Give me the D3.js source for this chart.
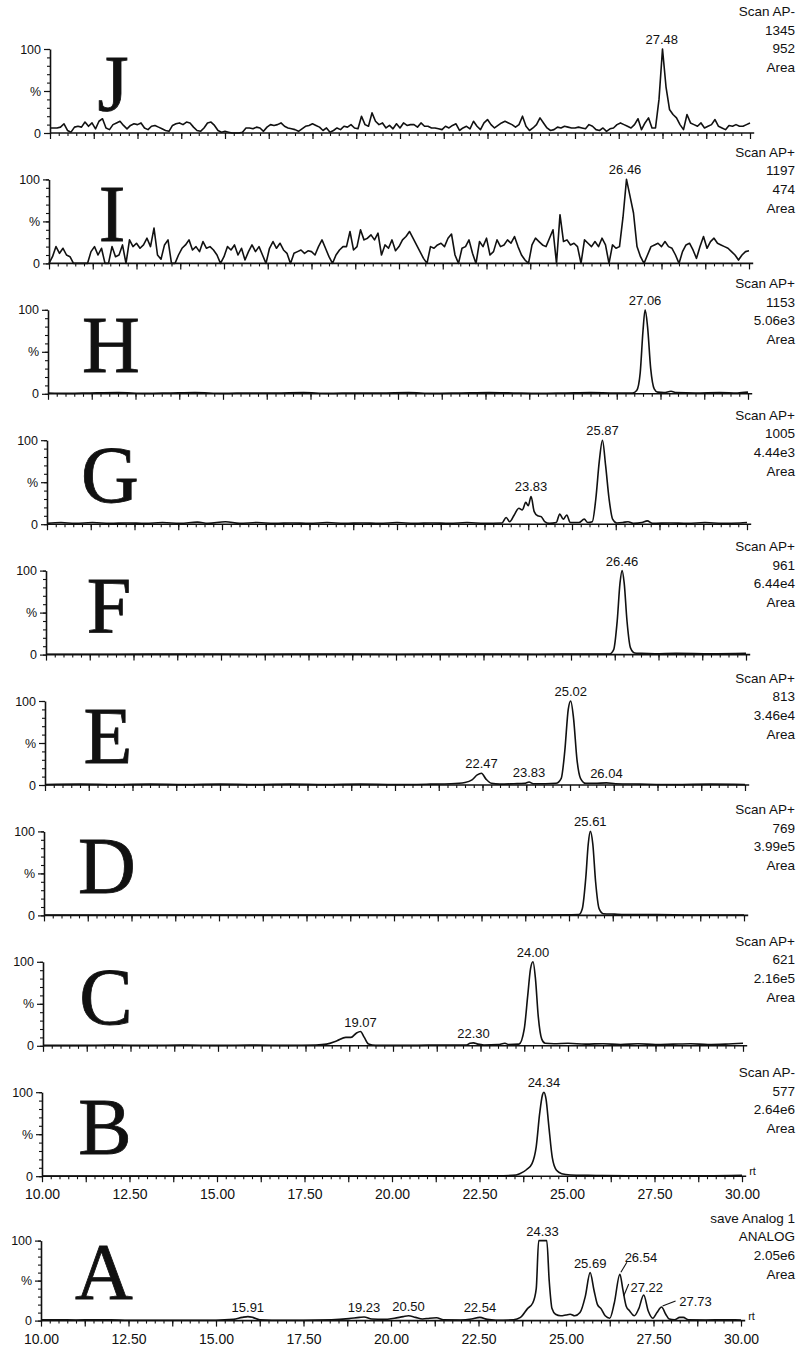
<!DOCTYPE html>
<html>
<head>
<meta charset="utf-8">
<script src="https://cdn.jsdelivr.net/npm/d3@7"></script>
<style>
  body { margin: 0; background: #fff; }
  svg text { font-family: "Liberation Sans", Arial, sans-serif; fill: #111; }
  .panel-letter { font-family: "Liberation Serif", "Times New Roman", serif; stroke: #111; stroke-width: 0.8; }
  .axis path, .axis line { stroke: #111; }
  .trace { fill: none; stroke: #111; stroke-width: 1.6; stroke-linejoin: round; }
</style>
</head>
<body>
<div id="chart"></div>
<script>
// ---- chart data ----
const panelLetters = ['J', 'I', 'H', 'G', 'F', 'E', 'D', 'C', 'B', 'A'];
const scanModes = ['Scan AP-', 'Scan AP+', 'Scan AP+', 'Scan AP+', 'Scan AP+', 'Scan AP+', 'Scan AP+', 'Scan AP+', 'Scan AP-', 'save Analog 1'];
const scanMasses = ['1345', '1197', '1153', '1005', '961', '813', '769', '621', '577', 'ANALOG'];
const scanIntensities = ['952', '474', '5.06e3', '4.44e3', '6.44e4', '3.46e4', '3.99e5', '2.16e5', '2.64e6', '2.05e6'];
const scanFooters = ['Area', 'Area', 'Area', 'Area', 'Area', 'Area', 'Area', 'Area', 'Area', 'Area'];
const timeLabels = [10, 12.5, 15, 17.5, 20, 22.5, 25, 27.5, 30];

// noisy traces J and I: one reading every 0.1 min from 10.0 to 30.0
const scanStart = 10;
const scanStep = 0.1;
const traceJ = [
  6, 6, 6, 7, 11, 3, 1, 7, 8, 7,
  13, 8, 12, 5, 14, 17, 6, 4, 10, 12,
  14, 9, 5, 9, 11, 10, 12, 6, 4, 8,
  9, 7, 5, 3, 2, 9, 11, 12, 10, 13,
  12, 7, 3, 2, 6, 12, 13, 9, 3, 1,
  2, 1, 0, 0, 0, 1, 6, 6, 5, 7,
  6, 2, 7, 10, 9, 10, 12, 8, 6, 5,
  4, 2, 5, 8, 9, 11, 9, 7, 3, 6,
  1, 3, 6, 4, 8, 7, 10, 6, 5, 20,
  10, 8, 24, 14, 10, 12, 6, 9, 5, 11,
  6, 12, 9, 10, 10, 7, 12, 8, 8, 6,
  6, 5, 4, 8, 6, 9, 11, 3, 6, 8,
  5, 14, 8, 4, 12, 16, 10, 6, 9, 12,
  14, 12, 10, 7, 10, 20, 8, 3, 6, 10,
  18, 12, 6, 3, 4, 7, 6, 8, 7, 6,
  6, 7, 6, 5, 10, 8, 4, 3, 6, 2,
  5, 6, 10, 12, 10, 8, 6, 10, 17, 4,
  12, 18, 6, 6, 40, 100, 55, 28, 22, 18,
  10, 4, 22, 12, 10, 8, 12, 6, 8, 10,
  16, 8, 6, 4, 9, 8, 10, 8, 8, 10,
  12
];
const traceI = [
  0, 8, 20, 12, 18, 10, 8, 0, 0, 0,
  0, 0, 14, 20, 10, 18, 0, 0, 20, 8,
  10, 22, 0, 28, 20, 24, 18, 22, 30, 20,
  42, 10, 5, 22, 28, 0, 0, 10, 18, 22,
  28, 16, 20, 14, 26, 18, 20, 16, 10, 0,
  8, 20, 16, 22, 10, 18, 4, 14, 22, 14,
  20, 10, 0, 18, 26, 18, 24, 16, 12, 0,
  12, 14, 16, 12, 15, 14, 10, 20, 28, 18,
  8, 0, 10, 16, 20, 20, 38, 16, 20, 40,
  28, 30, 34, 28, 36, 10, 22, 18, 28, 15,
  20, 28, 32, 38, 30, 22, 14, 6, 0, 20,
  18, 22, 24, 20, 30, 35, 10, 0, 18, 20,
  28, 12, 0, 26, 20, 30, 10, 14, 28, 20,
  22, 28, 24, 32, 20, 10, 4, 0, 22, 30,
  26, 22, 20, 30, 40, 0, 58, 26, 28, 22,
  24, 20, 0, 28, 24, 20, 26, 20, 30, 22,
  0, 22, 18, 20, 55, 100, 80, 60, 20, 8,
  0, 10, 20, 22, 24, 20, 26, 20, 18, 10,
  0, 14, 22, 24, 16, 6, 20, 32, 18, 26,
  30, 24, 22, 20, 18, 14, 10, 4, 10, 14,
  15
];

// smooth traces: [time (min), relative intensity (%)]
const traceH = [[10, 1], [10.6, 0.5], [11.2, 1], [12, 1.5], [12.8, 0.5], [13.5, 1], [14.2, 1.5], [15, 0.5], [15.8, 1], [16.5, 1], [17.3, 1.5], [18, 0.5], [18.8, 1], [19.5, 1], [20.3, 1.5], [21, 0.5], [21.8, 1], [22.6, 1.5], [23.3, 1], [24, 0.5], [24.8, 1], [25.5, 1.5], [26.2, 1], [26.7, 1], [26.82, 4], [26.92, 25], [27.0, 75], [27.06, 100], [27.13, 80], [27.22, 30], [27.32, 6], [27.42, 2], [27.6, 1.5], [27.8, 3], [27.95, 1.5], [28.5, 1], [29.2, 1.5], [29.7, 1], [30, 2]];
const traceG = [[10, 1], [10.4, 2], [10.8, 1], [11.3, 2], [11.8, 1], [12.3, 1.5], [12.8, 1], [13.3, 2], [13.8, 1], [14.3, 2.5], [14.6, 1], [15.1, 3], [15.5, 1], [16, 2], [16.5, 1], [17, 1.5], [17.5, 1], [18, 2], [18.5, 1], [19, 1.5], [19.5, 1], [20, 2], [20.5, 1], [21, 1.5], [21.5, 1], [22, 2], [22.5, 1], [23, 1.5], [23.12, 8], [23.22, 3], [23.35, 11], [23.48, 19], [23.58, 17], [23.68, 26], [23.75, 22], [23.83, 33], [23.92, 15], [24.02, 10], [24.12, 9], [24.22, 3], [24.35, 1], [24.55, 2], [24.65, 12], [24.75, 6], [24.85, 11], [24.95, 2], [25.2, 2], [25.35, 6], [25.45, 2], [25.58, 3], [25.68, 30], [25.78, 75], [25.87, 100], [25.96, 70], [26.06, 30], [26.16, 6], [26.28, 1.5], [26.45, 2], [26.6, 3], [26.75, 1], [27.0, 2], [27.15, 4], [27.3, 1], [27.8, 1.5], [28.3, 1], [28.8, 2], [29.3, 1], [29.8, 1.5], [30, 2]];
const traceF = [[10, 0.5], [12, 0.5], [14, 0.8], [16, 0.5], [18, 0.8], [20, 0.5], [22, 0.8], [24, 0.5], [25.5, 0.8], [26.1, 0.8], [26.22, 6], [26.32, 40], [26.4, 85], [26.46, 100], [26.52, 85], [26.6, 40], [26.7, 8], [26.82, 2], [27.0, 1.5], [27.4, 1], [28, 1.5], [29, 1], [30, 1.5]];
const traceE = [[10, 0.5], [11, 1], [12, 0.5], [13, 1], [14, 0.5], [15, 1], [16, 0.5], [17, 1], [18, 0.5], [19, 1], [20, 0.5], [21, 1], [21.6, 1.5], [22.0, 3], [22.2, 6], [22.35, 12], [22.47, 14], [22.6, 7], [22.75, 2], [23.0, 1], [23.4, 1.5], [23.7, 2], [23.83, 3.5], [23.95, 1.5], [24.3, 1.5], [24.6, 2], [24.75, 8], [24.85, 40], [24.95, 90], [25.02, 100], [25.1, 80], [25.2, 30], [25.3, 8], [25.45, 2], [25.7, 2], [26.04, 2.5], [26.3, 1.5], [27, 1], [28, 0.5], [29, 1], [30, 0.5]];
const traceD = [[10, 0.5], [12, 0.5], [14, 0.5], [16, 0.5], [18, 0.5], [20, 0.5], [22, 0.5], [24, 0.5], [25, 0.8], [25.28, 1], [25.38, 8], [25.48, 45], [25.55, 85], [25.61, 100], [25.68, 85], [25.76, 40], [25.86, 8], [25.98, 2], [26.3, 1.5], [26.8, 1], [27.5, 1], [28.5, 0.5], [30, 0.5]];
const traceC = [[10, 0.5], [11, 0.5], [12, 0.8], [13, 0.5], [14, 0.8], [15, 0.5], [16, 0.8], [17, 0.5], [17.8, 1], [18.1, 2], [18.4, 6], [18.65, 10], [18.8, 10], [18.95, 15], [19.07, 17], [19.18, 10], [19.3, 2], [19.5, 0.5], [20.5, 0.5], [21.5, 1], [22.1, 1], [22.2, 3], [22.3, 3.5], [22.42, 2], [22.6, 1], [23.0, 1.5], [23.2, 3], [23.3, 1.5], [23.6, 2], [23.75, 20], [23.85, 60], [23.93, 92], [24.0, 100], [24.07, 80], [24.15, 35], [24.25, 8], [24.35, 3], [24.6, 2.5], [25, 3], [25.5, 2], [26, 2.5], [26.5, 1.5], [27, 2.5], [27.5, 1.5], [28, 2], [28.5, 2.5], [29, 1.5], [29.5, 2], [30, 3]];
const traceB = [[10, 0.3], [12, 0.3], [14, 0.3], [16, 0.3], [18, 0.3], [20, 0.3], [22, 0.5], [23, 0.5], [23.45, 1], [23.65, 3], [23.85, 8], [24.0, 15], [24.12, 35], [24.22, 75], [24.3, 97], [24.34, 100], [24.4, 92], [24.48, 60], [24.58, 22], [24.7, 7], [24.85, 3], [25.1, 1.5], [25.6, 1], [26, 0.8], [27, 0.5], [28, 0.5], [29, 0.5], [30, 1]];
const traceA = [[10, 1], [10.5, 1], [11, 0.8], [11.5, 1], [12, 1], [12.5, 0.5], [13, 0.5], [14, 0.5], [15, 0.5], [15.5, 1.5], [15.75, 4], [15.91, 5], [16.05, 4], [16.25, 1], [16.6, 0.5], [17.5, 0.5], [18.3, 1], [18.8, 2.5], [19.1, 4], [19.23, 4.5], [19.45, 2], [19.8, 1.5], [20.1, 3], [20.35, 5], [20.5, 6], [20.7, 4], [20.9, 2], [21.1, 3], [21.3, 3.5], [21.5, 1], [22, 0.8], [22.3, 2], [22.54, 4], [22.75, 1.5], [23.0, 0.5], [23.5, 1], [23.7, 4], [23.9, 15], [24.05, 22], [24.15, 40], [24.22, 100], [24.45, 100], [24.52, 50], [24.6, 15], [24.7, 8], [24.85, 6], [25.0, 7], [25.12, 8], [25.25, 6], [25.4, 10], [25.55, 30], [25.69, 60], [25.8, 38], [25.9, 20], [26.0, 15], [26.12, 6], [26.25, 3], [26.38, 22], [26.54, 58], [26.62, 40], [26.72, 18], [26.82, 12], [26.95, 6], [27.08, 15], [27.22, 32], [27.35, 12], [27.48, 3], [27.6, 10], [27.73, 17], [27.85, 8], [27.95, 2], [28.1, 1], [28.25, 4], [28.35, 4], [28.5, 1], [29, 0.8], [29.5, 1], [30, 0.8]];

// retention-time labels printed over the peaks
const peaksJ = ['27.48'];
const peaksI = ['26.46'];
const peaksH = ['27.06'];
const peaksG = ['23.83', '25.87'];
const peaksF = ['26.46'];
const peaksE = ['22.47', '23.83', '25.02', '26.04'];
const peaksD = ['25.61'];
const peaksC = ['19.07', '22.30', '24.00'];
const peaksB = ['24.34'];
const peaksA = ['15.91', '19.23', '20.50', '22.54', '24.33', '25.69', '26.54', '27.22', '27.73'];

class ChromatogramPanel {

  constructor(_config, _data) {
    this.config = {
      parentElement: _config.parentElement,
      left: _config.left,
      width: _config.width || 700,
      baseline: _config.baseline,
      height: _config.height || 84,
      showTimeLabels: _config.showTimeLabels || false,
      textTop: _config.textTop || -106,
      lineGap: 18.7,
      smooth: _config.smooth
    };
    this.data = _data;
    this.initVis();
  }

  initVis() {
    let vis = this;

    vis.xScale = d3.scaleLinear()
        .domain([10, 30])
        .range([vis.config.left, vis.config.left + vis.config.width]);

    vis.yScale = d3.scaleLinear()
        .domain([0, 100])
        .range([vis.config.baseline, vis.config.baseline - vis.config.height]);

    vis.chart = vis.config.parentElement.append('g')
        .attr('class', 'panel');

    // minor / medium ticks under the time axis
    vis.xMinor = d3.axisBottom(vis.xScale)
        .tickValues(d3.range(40, 121).map(d => d / 4))
        .tickSize(3).tickSizeOuter(0).tickFormat('');
    vis.xMedium = d3.axisBottom(vis.xScale)
        .tickValues(d3.range(8, 25).map(d => d * 1.25))
        .tickSize(6).tickSizeOuter(0).tickFormat('');

    vis.yMinor = d3.axisLeft(vis.yScale)
        .tickValues(d3.range(0, 11).map(d => d * 10))
        .tickSize(3).tickSizeOuter(0).tickFormat('');
    vis.yMajor = d3.axisLeft(vis.yScale)
        .tickValues([0, 50, 100])
        .tickSize(6).tickSizeOuter(0)
        .tickFormat(d => d === 50 ? '%' : d);

    vis.line = d3.line()
        .x(d => vis.xScale(d[0]))
        .y(d => vis.yScale(d[1]))
        .curve(vis.config.smooth ? d3.curveMonotoneX : d3.curveLinear);

    vis.renderVis();
  }

  renderVis() {
    let vis = this;
    const d = vis.data;
    const base = vis.config.baseline;
    const axisEnd = vis.xScale(30.12);

    const xg = vis.chart.append('g')
        .attr('class', 'axis')
        .attr('transform', `translate(0,${base})`)
        .call(vis.xMinor);
    xg.select('.domain').attr('stroke-width', 1.6).attr('d', `M${vis.config.left},0H${axisEnd}`);
    xg.selectAll('line').attr('stroke-width', 1.1);
    xg.selectAll('text').remove();

    const xm = vis.chart.append('g')
        .attr('class', 'axis')
        .attr('transform', `translate(0,${base})`)
        .call(vis.xMedium);
    xm.select('.domain').remove();
    xm.selectAll('line').attr('stroke-width', 1.2);
    xm.selectAll('text').remove();

    if (vis.config.showTimeLabels) {
      const xl = vis.chart.append('g')
          .attr('class', 'axis')
          .attr('transform', `translate(0,${base})`)
          .call(d3.axisBottom(vis.xScale)
            .tickValues(timeLabels)
            .tickSize(0).tickPadding(13)
            .tickFormat(d3.format('.2f')));
      xl.select('.domain').remove();
      xl.selectAll('text').attr('font-size', 14).attr('font-family', '"Liberation Sans", Arial, sans-serif');

      vis.chart.append('text')
          .attr('x', axisEnd + 3)
          .attr('y', base - 1)
          .attr('font-size', 11)
          .text('rt');
    }

    const yg = vis.chart.append('g')
        .attr('class', 'axis')
        .attr('transform', `translate(${vis.config.left},0)`)
        .call(vis.yMinor);
    yg.select('.domain').attr('stroke-width', 1.6);
    yg.selectAll('line').attr('stroke-width', 1.1);
    yg.selectAll('text').remove();

    const ym = vis.chart.append('g')
        .attr('class', 'axis')
        .attr('transform', `translate(${vis.config.left},0)`)
        .call(vis.yMajor);
    ym.select('.domain').remove();
    ym.selectAll('line').attr('stroke-width', 1.2);
    ym.selectAll('text')
        .attr('font-size', 12.5)
        .attr('font-family', '"Liberation Sans", Arial, sans-serif');

    // panel letter
    vis.chart.append('text')
        .attr('class', 'panel-letter')
        .attr('x', vis.config.left + 63)
        .attr('y', base - 22)
        .attr('text-anchor', 'middle')
        .attr('font-size', 80)
        .text(d.letter);

    // chromatogram trace
    vis.chart.append('path')
        .datum(d.points)
        .attr('class', 'trace')
        .attr('d', vis.line);

    // acquisition info, top right
    vis.chart.selectAll('.scan-info')
        .data(d.info)
      .join('text')
        .attr('class', 'scan-info')
        .attr('x', 795)
        .attr('y', (_, i) => base + vis.config.textTop + i * vis.config.lineGap)
        .attr('text-anchor', 'end')
        .attr('font-size', 13.5)
        .text(t => t);

    // peak labels
    const peakHeight = t => d3.max(d.points.filter(p => Math.abs(p[0] - t) < 0.15), p => p[1]);
    const labels = d.peaks.map(p => {
      const t = +p;
      const off = d.offsets[p] || {dx: 0, dy: -5};
      return {text: p, x: vis.xScale(t), y: vis.yScale(peakHeight(t)), off: off};
    });

    vis.chart.selectAll('.peak-label')
        .data(labels)
      .join('text')
        .attr('class', 'peak-label')
        .attr('x', l => l.x + l.off.dx)
        .attr('y', l => l.y + l.off.dy)
        .attr('text-anchor', 'middle')
        .attr('font-size', 13)
        .text(l => l.text);

    vis.chart.selectAll('.leader')
        .data(labels.filter(l => l.off.leader))
      .join('line')
        .attr('class', 'leader')
        .attr('x1', l => l.x + l.off.leader[0])
        .attr('y1', l => l.y + l.off.leader[1])
        .attr('x2', l => l.x + l.off.leader[2])
        .attr('y2', l => l.y + l.off.leader[3])
        .attr('stroke', '#111')
        .attr('stroke-width', 1.1);
  }
}

// ---- build panels ----
const svg = d3.select('#chart').append('svg')
    .attr('width', 803)
    .attr('height', 1349);

const asPairs = values => values.map((v, i) => [scanStart + i * scanStep, v]);
const traces = [asPairs(traceJ), asPairs(traceI), traceH, traceG, traceF, traceE, traceD, traceC, traceB, traceA];
const peakSets = [peaksJ, peaksI, peaksH, peaksG, peaksF, peaksE, peaksD, peaksC, peaksB, peaksA];

// labels in panel A that were pushed aside by the software, with leader lines
const offsetsA = {
  '26.54': {dx: 21, dy: -12, leader: [1, -2, 7, -12]},
  '27.22': {dx: 3, dy: -3, leader: [-20, 1, -15, -11]},
  '27.73': {dx: 34, dy: -1, leader: [1, -1, 14, -6]}
};

panelLetters.forEach((letter, i) => {
  const isA = i === 9;
  new ChromatogramPanel({
    parentElement: svg,
    left: 50 - i * 1.0,
    baseline: 133 + i * 130.4 + (isA ? 14 : 0),
    height: isA ? 80 : 84,
    showTimeLabels: i >= 8,
    textTop: i === 0 ? -117 : -108 + i * 1.1,
    smooth: i >= 2
  }, {
    letter: letter,
    points: traces[i],
    peaks: peakSets[i],
    offsets: isA ? offsetsA : {},
    info: [scanModes[i], scanMasses[i], scanIntensities[i], scanFooters[i]]
  });
});
</script>
</body>
</html>
